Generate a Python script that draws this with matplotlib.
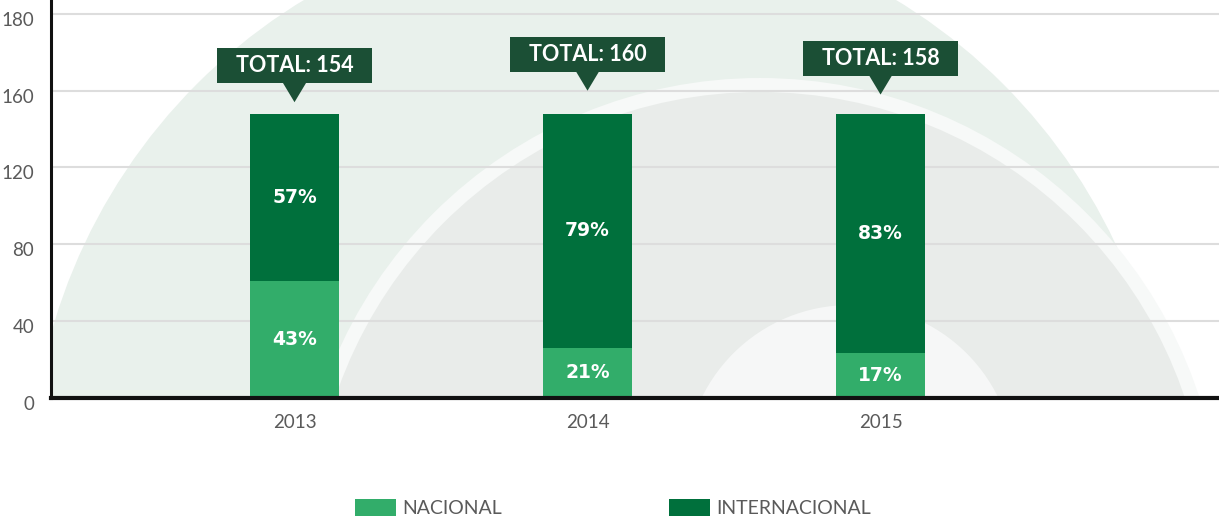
import matplotlib

matplotlib.use("Agg")
import matplotlib.pyplot as plt
from matplotlib.patches import Circle, Polygon, Rectangle, Patch
from matplotlib.transforms import Affine2D, ScaledTranslation

# data
years = ["2013", "2014", "2015"]
nacional = [61, 26, 23]
internacional = [87, 122, 125]
pct_nacional = ["43%", "21%", "17%"]
pct_internacional = ["57%", "79%", "83%"]
totals = [154, 160, 158]
y_ticks = [0, 40, 80, 120, 160, 200]
y_tick_labels = ["0", "40", "80", "120", "160", "180"]

C_NAC = "#32ad6a"
C_INT = "#00703c"
C_BOX = "#1b4f35"
C_TXT = "#5a5a5a"
C_GRID = "#dddddd"

W, H = 1219, 517
plt.rcParams["font.family"] = ["Lato", "DejaVu Sans"]

fig = plt.figure(figsize=(W / 100, H / 100), dpi=100)
fig.patch.set_facecolor("white")
ax = fig.add_axes([51 / W, (H - 397.5) / H, 1 - 51 / W, 397.5 / H])
ax.set_facecolor("white")

# faint arched watermark in the background (pixel coordinates, y down)
px = Affine2D().scale(1, -1).translate(0, H)
for (cx, cy, r, col) in [
    (600, 487, 570, "#e9f1ec"),
    (760, 540, 462, "#f7f9f8"),
    (760, 540, 448, "#e9ecea"),
    (850, 470, 165, "#f6f7f7"),
]:
    circ = Circle((cx, cy), r, transform=px, facecolor=col, edgecolor="none", zorder=0.1)
    ax.add_patch(circ)
    circ.set_clip_path(ax.patch)

x = list(range(len(years)))
bw = 0.304
ax.bar(x, nacional, width=bw, color=C_NAC, zorder=2)
ax.bar(x, internacional, width=bw, bottom=nacional, color=C_INT, zorder=2)

for xi, n, i, pn, pi in zip(x, nacional, internacional, pct_nacional, pct_internacional):
    ax.text(xi, n / 2, pn, ha="center", va="center", color="white", family="DejaVu Sans",
            fontsize=13.5, fontweight="bold", zorder=3)
    ax.text(xi, n + i / 2, pi, ha="center", va="center", color="white", family="DejaVu Sans",
            fontsize=13.5, fontweight="bold", zorder=3)

# callouts: tip sits on the total value
tri_w, tri_h = 0.24, 0.19
box_w, box_h = 1.55, 0.35
for xi, t in zip(x, totals):
    tr = fig.dpi_scale_trans + ScaledTranslation(xi, t, ax.transData)
    ax.add_patch(Polygon([(-tri_w / 2, tri_h + 0.01), (tri_w / 2, tri_h + 0.01), (0, 0)],
                         closed=True, transform=tr, facecolor=C_BOX, edgecolor="none",
                         zorder=4, clip_on=False))
    ax.add_patch(Rectangle((-box_w / 2, tri_h), box_w, box_h, transform=tr,
                           facecolor=C_BOX, edgecolor="none", zorder=4, clip_on=False))
    ax.text(0, tri_h + box_h / 2, f"TOTAL: {t}", transform=tr, ha="center", va="center",
            color="white", fontsize=15.5, fontweight="bold", zorder=5, clip_on=False)

ax.set_xlim(-0.831, 3.155)
ax.set_ylim(0, 207.3)
ax.set_xticks(x)
ax.set_xticklabels(years)
ax.set_yticks(y_ticks)
ax.set_yticklabels(y_tick_labels)
ax.tick_params(axis="both", length=0, colors=C_TXT, labelsize=13.5)
ax.tick_params(axis="x", pad=12)
ax.tick_params(axis="y", pad=12)
for lab in ax.get_yticklabels():
    lab.set_transform(lab.get_transform() + ScaledTranslation(0, -5 / 100, fig.dpi_scale_trans))

ax.grid(axis="y", color=C_GRID, linewidth=1.5)
ax.set_axisbelow(True)
for side in ["top", "right"]:
    ax.spines[side].set_visible(False)
ax.spines["left"].set_linewidth(2.2)
ax.spines["bottom"].set_linewidth(3)
ax.spines["left"].set_color("#111111")
ax.spines["bottom"].set_color("#111111")
ax.spines["left"].set_zorder(6)
ax.spines["bottom"].set_zorder(6)

handles = [Patch(facecolor=C_NAC, edgecolor="none"), Patch(facecolor=C_INT, edgecolor="none")]
leg = fig.legend(handles, ["NACIONAL", "INTERNACIONAL"], loc="center",
                 bbox_to_anchor=(613 / W, 1 - 508 / H), ncol=2, frameon=False,
                 fontsize=14, handlelength=2.1, handleheight=0.95, handletextpad=0.3,
                 columnspacing=8.6)
for txt in leg.get_texts():
    txt.set_color(C_TXT)

fig.savefig("out.png", dpi=100)
